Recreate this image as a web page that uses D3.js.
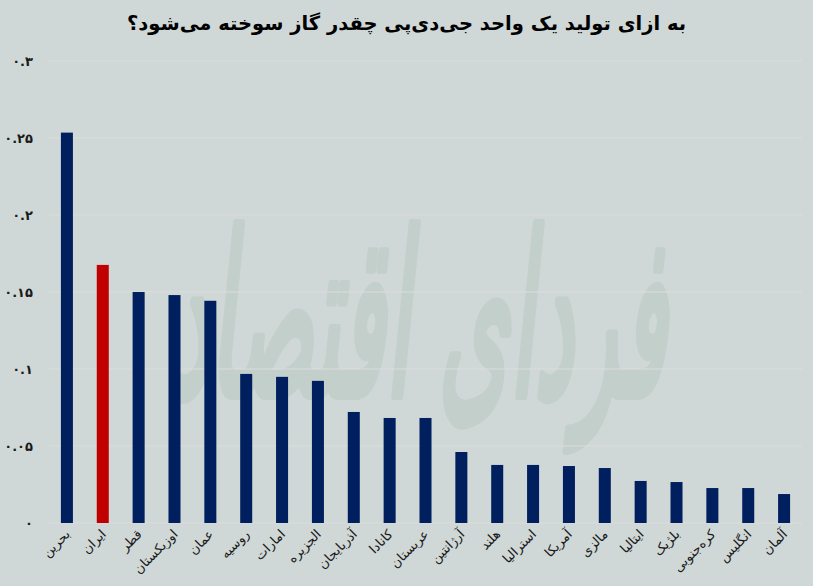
<html>
<head>
<meta charset="utf-8">
<script src="https://d3js.org/d3.v7.min.js"></script>
<style>
  body { margin: 0; background: #cfd8d7; }
  text { font-family: "DejaVu Sans", sans-serif; }
</style>
</head>
<body>
<script>
var countries = ["بحرین", "ایران", "قطر", "اوزبکستان", "عمان", "روسیه", "امارات", "الجزیره", "آذربایجان", "کانادا",
  "عربستان", "آرژانتین", "هلند", "استرالیا", "آمریکا", "مالزی", "ایتالیا", "بلژیک", "کره‌جنوبی", "انگلیس", "آلمان"];
var gasPerGdp = [0.2535, 0.1676, 0.1500, 0.1480, 0.1443, 0.0968, 0.0949, 0.0923, 0.0721, 0.0682,
  0.0682, 0.0461, 0.0377, 0.0377, 0.0370, 0.0357, 0.0273, 0.0266, 0.0227, 0.0227, 0.0188];
var highlight = "ایران";
var yTicks = [0, 0.05, 0.1, 0.15, 0.2, 0.25, 0.3];
var yTickLabels = ["۰", "۰.۰۵", "۰.۱", "۰.۱۵", "۰.۲", "۰.۲۵", "۰.۳"];
var title = "به ازای تولید یک واحد جی‌دی‌پی چقدر گاز سوخته می‌شود؟";

var width = 813, height = 586;
var margin = {top: 61, right: 11, bottom: 63, left: 49};

var svg = d3.select("body").append("svg")
    .attr("width", width)
    .attr("height", height);

svg.append("rect").attr("width", width).attr("height", height).attr("fill", "#cfd8d7");

// watermark logo, behind everything
svg.append("text")
    .attr("transform", "translate(418,395) scale(1,2.5) skewX(-14)")
    .attr("text-anchor", "middle")
    .attr("font-size", 90)
    .attr("fill", "#c3cfcb")
    .attr("stroke", "#c3cfcb")
    .attr("stroke-width", 4)
    .attr("stroke-linejoin", "round")
    .text("فردای اقتصاد");

var x = d3.scaleBand()
    .domain(countries)
    .range([margin.left, width - margin.right])
    .paddingInner(0.665)
    .paddingOuter(0.332);

var y = d3.scaleLinear()
    .domain([0, 0.3])
    .range([height - margin.bottom, margin.top]);

// grid
svg.append("g").selectAll("line")
    .data(yTicks).enter()
    .append("line")
    .attr("x1", margin.left)
    .attr("x2", width - margin.right)
    .attr("y1", d => y(d))
    .attr("y2", d => y(d))
    .attr("stroke", "#dcdcdc")
    .attr("stroke-width", 1);

svg.append("g").selectAll("text")
    .data(yTicks).enter()
    .append("text")
    .attr("x", 33)
    .attr("y", d => y(d))
    .attr("dy", "0.35em")
    .attr("text-anchor", "end")
    .attr("font-size", 13)
    .attr("font-weight", "bold")
    .attr("fill", "#1a1a1a")
    .text((d, i) => yTickLabels[i]);

svg.append("g").selectAll("rect")
    .data(countries).enter()
    .append("rect")
    .attr("x", d => x(d))
    .attr("width", x.bandwidth())
    .attr("y", (d, i) => y(gasPerGdp[i]))
    .attr("height", (d, i) => y(0) - y(gasPerGdp[i]))
    .attr("fill", d => d == highlight ? "#c00000" : "#001f5f");

svg.append("g").selectAll("text")
    .data(countries).enter()
    .append("text")
    .attr("transform", d => "translate(" + (x(d) + x.bandwidth() / 2 + 4) + "," + (y(0) + 12) + ") rotate(-45)")
    .attr("text-anchor", "end")
    .attr("font-size", 13)
    .attr("fill", "#1a1a1a")
    .text(d => d);

svg.append("text")
    .attr("x", width / 2)
    .attr("y", 30)
    .attr("text-anchor", "middle")
    .attr("font-size", 19.5)
    .attr("font-weight", "bold")
    .attr("fill", "#000")
    .text(title);
</script>
</body>
</html>
